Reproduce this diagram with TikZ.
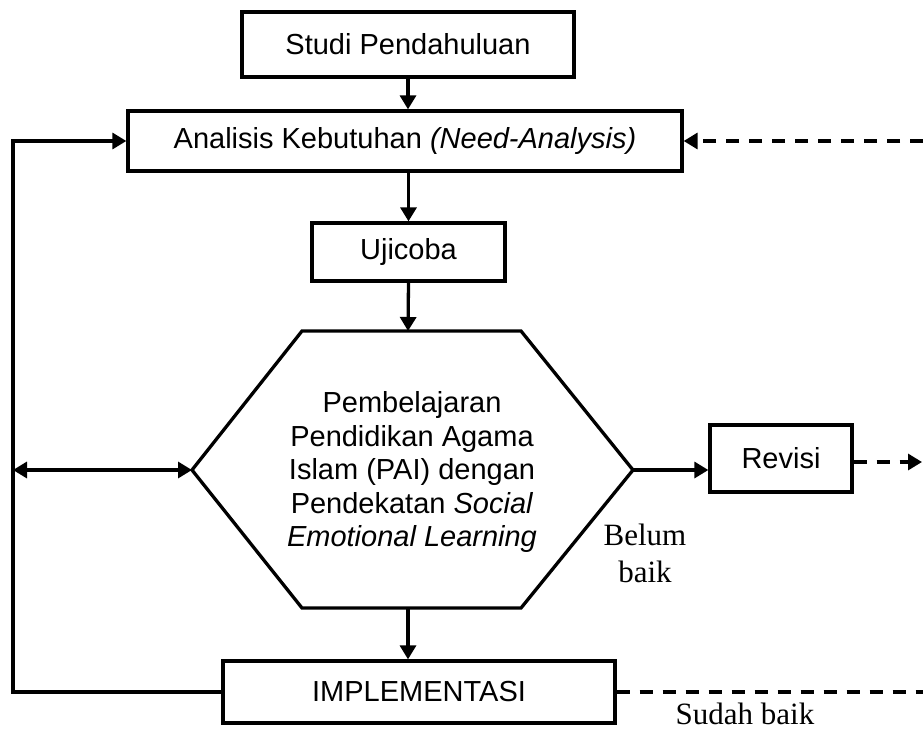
\documentclass[tikz,border=0pt]{standalone}
\usepackage{fontspec}
\setmainfont{Liberation Sans}
\newfontfamily\serifhand{Liberation Serif}
\usetikzlibrary{arrows.meta}
\tikzset{
  boxnode/.style={draw, line width=3.3pt, inner sep=0pt, align=center,
    font=\fontsize{29}{38}\selectfont},
  conn/.style={line width=3.3pt, -{Triangle[length=14pt,width=16pt]}},
  plain/.style={line width=3.3pt},
  dashconn/.style={line width=3.3pt, dash pattern=on 13pt off 10pt},
  lbl/.style={inner sep=0pt, align=center, font=\serifhand\fontsize{31}{37}\selectfont}
}
\begin{document}
\begin{tikzpicture}[x=1pt,y=-1pt]
\useasboundingbox (0,0) rectangle (923,731);
% boxes
\node[boxnode, minimum width=332pt, minimum height=65pt] (studi) at (408,44.5) {Studi Pendahuluan};
\node[boxnode, minimum width=554pt, minimum height=60pt] (analisis) at (405,141) {Analisis Kebutuhan \textit{(Need-Analysis)}};
\node[boxnode, minimum width=193pt, minimum height=58pt] (ujicoba) at (408.5,252) {Ujicoba};
\node[boxnode, minimum width=142pt, minimum height=67pt] (revisi) at (781,458.5) {Revisi};
\node[boxnode, minimum width=392pt, minimum height=62pt] (impl) at (419,692) {IMPLEMENTASI};
% hexagon
\coordinate (hTL) at (302,331);
\coordinate (hTR) at (521,331);
\coordinate (hR) at (633,470);
\coordinate (hBR) at (521,608);
\coordinate (hBL) at (302,608);
\coordinate (hL) at (192,470);
\coordinate (hTop) at (408,331);
\coordinate (hBot) at (408,608);
\draw[plain, line join=miter] (hTL) -- (hTR) -- (hR) -- (hBR) -- (hBL) -- (hL) -- cycle;
\node[inner sep=0pt, align=center, font=\fontsize{29}{33.5}\selectfont] (pai) at (412,472)
  {Pembelajaran\\Pendidikan Agama\\Islam (PAI) dengan\\Pendekatan \textit{Social}\\\textit{Emotional Learning}};
% helper coordinates
\coordinate (loopL) at (13,400);
\coordinate (rightEdge) at (923,400);
\coordinate (revEnd) at (922,462);
% connectors
\draw[conn] (studi.south) -- (studi.south |- analisis.north);
\draw[conn] (ujicoba.north |- analisis.south) -- (ujicoba.north);
\draw[conn] (ujicoba.south) -- (hTop);
\draw[conn] (hBot) -- (hBot |- impl.north);
\draw[conn] (hR) -- (hR -| revisi.west);
\draw[dashconn, -{Triangle[length=14pt,width=16pt]}] (revisi.east |- revEnd) -- (revEnd);
\draw[dashconn, -{Triangle[length=14pt,width=16pt]}] (analisis.east -| rightEdge) -- (analisis.east);
\draw[dashconn] (impl.east) -- (impl.east -| rightEdge);
\draw[conn, line join=miter] (impl.west) -| (loopL) |- (analisis.west);
\draw[plain, {Triangle[length=14pt,width=16pt]}-{Triangle[length=14pt,width=16pt]}] (hL -| loopL) -- (hL);
% labels
\node[lbl] (belum) at (645,553) {Belum\\baik};
\node[lbl] (sudah) at (745,714) {Sudah baik};
\end{tikzpicture}
\end{document}
